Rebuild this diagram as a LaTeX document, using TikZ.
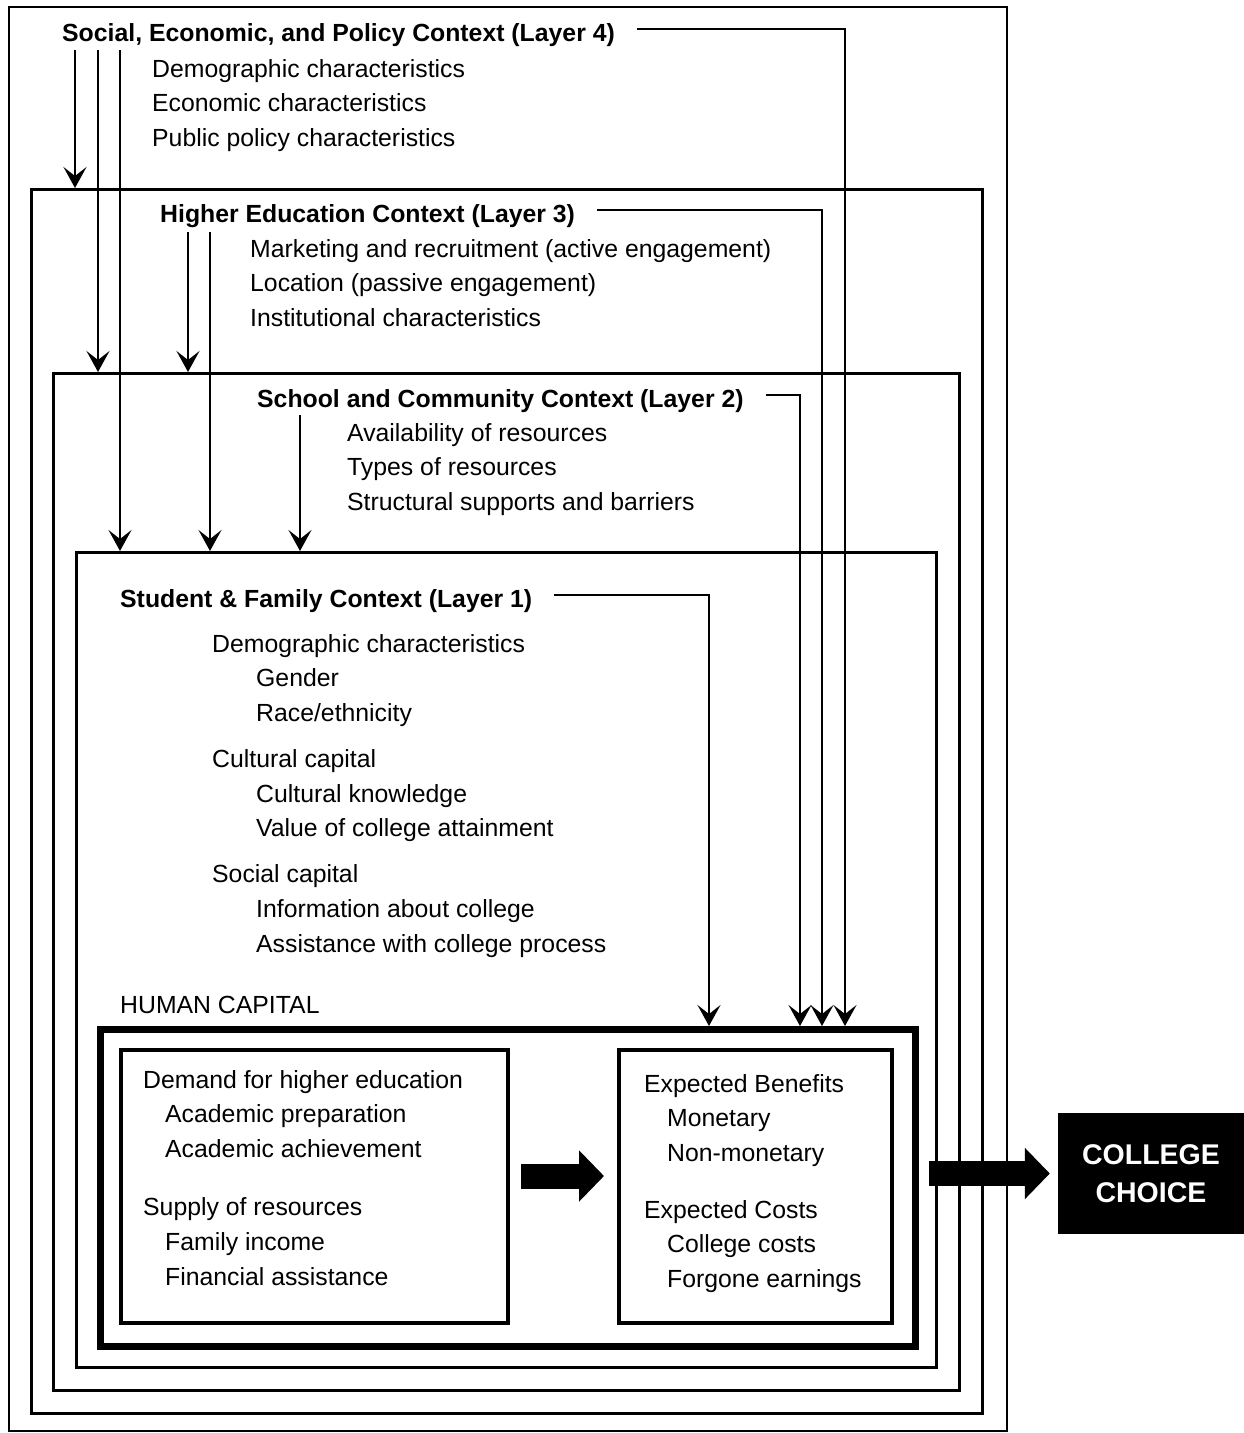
\documentclass[tikz,border=0pt]{standalone}
\usepackage{fontspec}
\setmainfont{Liberation Sans}
\usetikzlibrary{arrows.meta,positioning}
\tikzstyle{layer} = [draw,line width=3pt,inner sep=0,anchor=north west]
\tikzstyle{title} = [inner sep=0,anchor=base west,font=\bfseries]
\tikzstyle{items} = [inner sep=0,anchor=base west,align=left]
\tikzstyle{link} = [-{Stealth[length=21pt,width=23pt,inset=9pt]},line width=2pt]
\tikzstyle{fat} = [-{Triangle[length=25pt,width=50pt]},line width=25pt]

\begin{document}
\fontsize{24.8}{34.7}\selectfont
\begin{tikzpicture}[x=1pt,y=-1pt]
      \useasboundingbox (0,0) rectangle (1244,1433);
      % nested layers
      \node[layer,line width=2pt,minimum width=998pt,minimum height=1424pt] (l4) at (8,6) {};
      \node[layer,minimum width=951pt,minimum height=1224pt] (l3) at (30,188) {};
      \node[layer,minimum width=906pt,minimum height=1017pt] (l2) at (52,372) {};
      \node[layer,minimum width=860pt,minimum height=815pt] (l1) at (75,551) {};
      \node[layer,line width=7pt,minimum width=815pt,minimum height=317pt] (hc) at (97,1026) {};
      \node[layer,line width=4pt,minimum width=387pt,minimum height=273pt] (dem) at (119,1048) {};
      \node[layer,line width=4pt,minimum width=273pt,minimum height=273pt] (exp) at (617,1048) {};
      \node[fill=black,text=white,inner sep=0,align=center,minimum width=186pt,minimum height=121pt,
            font=\bfseries\fontsize{28.5}{38}\selectfont] (choice) at (1151,1173.5) {COLLEGE\\CHOICE};
      % item lists sit on the baseline of their last line
      % layer 4
      \node[title] (t4) at (62,41) {Social, Economic, and Policy Context (Layer 4)};
      \node[items] (i4) at (152,146.4) {Demographic characteristics\\Economic characteristics\\Public policy characteristics};
      % layer 3
      \node[title] (t3) at (160,222) {Higher Education Context (Layer 3)};
      \node[items] (i3) at (250,326.4) {Marketing and recruitment (active engagement)\\Location (passive engagement)\\Institutional characteristics};
      % layer 2
      \node[title] (t2) at (257,407) {School and Community Context (Layer 2)};
      \node[items] (i2) at (347,510.4) {Availability of resources\\Types of resources\\Structural supports and barriers};
      % layer 1
      \node[title] (t1) at (120,607) {Student \& Family Context (Layer 1)};
      \node[items] (i1) at (212,952.2) {Demographic characteristics\\\hspace*{44pt}Gender\\\hspace*{44pt}Race/ethnicity\\[11.3pt]%
            Cultural capital\\\hspace*{44pt}Cultural knowledge\\\hspace*{44pt}Value of college attainment\\[11.3pt]%
            Social capital\\\hspace*{44pt}Information about college\\\hspace*{44pt}Assistance with college process};
      % human capital
      \node[items] (hclabel) at (120,1013) {HUMAN CAPITAL};
      \node[items] (demtext) at (143,1285) {Demand for higher education\\\hspace*{22pt}Academic preparation\\\hspace*{22pt}Academic achievement\\[23.5pt]%
            Supply of resources\\\hspace*{22pt}Family income\\\hspace*{22pt}Financial assistance};
      \node[items] (exptext) at (644,1287.5) {Expected Benefits\\\hspace*{23pt}Monetary\\\hspace*{23pt}Non-monetary\\[22pt]%
            Expected Costs\\\hspace*{23pt}College costs\\\hspace*{23pt}Forgone earnings};
      % downward links
      \coordinate (d4a) at (75,50);
      \coordinate (d4b) at (98,50);
      \coordinate (d4c) at (120,50);
      \coordinate (d3a) at (188,232);
      \coordinate (d3b) at (210,232);
      \coordinate (d2a) at (300,415);
      \draw[link] (d4a) -- (d4a |- l3.north);
      \draw[link] (d4b) -- (d4b |- l2.north);
      \draw[link] (d4c) -- (d4c |- l1.north);
      \draw[link] (d3a) -- (d3a |- l2.north);
      \draw[link] (d3b) -- (d3b |- l1.north);
      \draw[link] (d2a) -- (d2a |- l1.north);
      % links into human capital
      \draw[link] ([shift={(22pt,12pt)}]t4.base east) -| ([xshift=748pt]hc.north west);
      \draw[link] ([shift={(22pt,12pt)}]t3.base east) -| ([xshift=725pt]hc.north west);
      \draw[link] ([shift={(22pt,12pt)}]t2.base east) -| ([xshift=703pt]hc.north west);
      \draw[link] ([shift={(22pt,12pt)}]t1.base east) -| ([xshift=612pt]hc.north west);
      % block arrows
      \draw[fat] ([shift={(11pt,10.5pt)}]dem.east) -- ([shift={(-13pt,10.5pt)}]exp.west);
      \draw[fat] ([xshift=9.5pt]hc.east |- choice.west) -- ([xshift=-8pt]choice.west);
\end{tikzpicture}
\end{document}
